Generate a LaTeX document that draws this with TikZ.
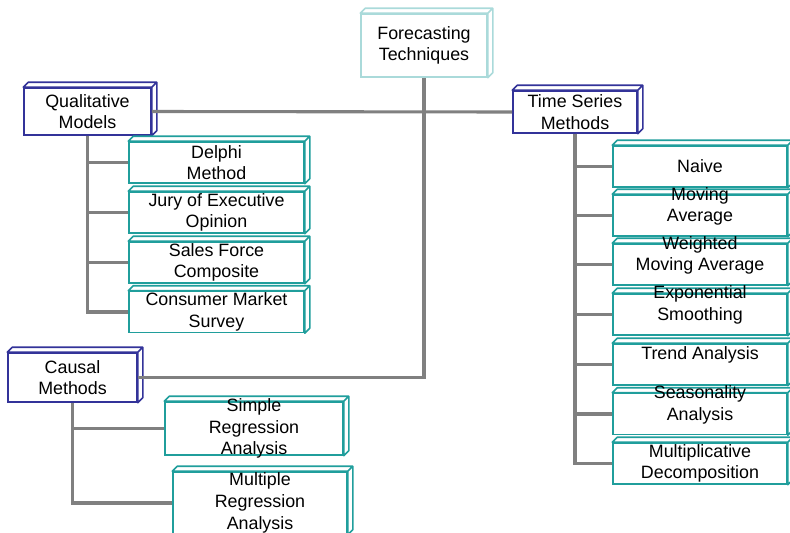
\documentclass[tikz,border=0pt]{standalone}
\usepackage{fontspec}
\setmainfont{Liberation Sans}
\definecolor{navyline}{RGB}{51,51,153}
\definecolor{tealline}{RGB}{32,158,156}
\definecolor{paleline}{RGB}{170,218,218}
\definecolor{linkgray}{RGB}{128,128,128}
\newcommand{\boxfont}{\fontsize{12.7}{15.4}\selectfont}
\tikzset{
  box/.style={draw=#1, line width=1.1pt, fill=white, inner sep=0pt,
    align=center, font=\boxfont,
    append after command={\pgfextra{%
      \draw[draw=#1, line width=1.1pt, fill=white, line join=round]
        (\tikzlastnode.north west) -- ++(5,-5)
        -- ([shift={(5,-5)}]\tikzlastnode.north east)
        -- ([shift={(5,-5)}]\tikzlastnode.south east)
        -- (\tikzlastnode.south east) -- (\tikzlastnode.north east) -- cycle
        (\tikzlastnode.north east) -- ++(5,-5);}}},
  boxsize/.style 2 args={minimum width=#1*0.025cm, minimum height=#2*0.025cm},
  every label/.style={align=center, font=\boxfont, inner sep=0pt},
  link/.style={draw=linkgray, line width=2.2pt}
}

\begin{document}
\begin{tikzpicture}[x=0.025cm, y=-0.025cm]
    \useasboundingbox (0,0) rectangle (790,533);

    % top and the three families
    \node[box=paleline, boxsize={126}{63}] (fore) at (424,45.5) {Forecasting\\Techniques};
    \node[box=navyline, boxsize={127}{47}] (qual) at (87.5,111.5) {Qualitative\\Models};
    \node[box=navyline, boxsize={124}{42}] (time) at (575,112) {Time Series\\Methods};
    \node[box=navyline, boxsize={129}{49}] (causal) at (72.5,377.5) {Causal\\Methods};

    % qualitative models
    \node[box=tealline, boxsize={175}{41}] (delphi) at (216.5,162.5) {Delphi\\Method};
    \node[box=tealline, boxsize={175}{41}] (jury) at (216.5,212.5) {Jury of Executive\\Opinion};
    \node[box=tealline, boxsize={175}{41}] (sales) at (216.5,262.5) {Sales Force\\Composite};
    \node[box=tealline, boxsize={175}{41}] (consumer) at (216.5,312) {Consumer Market\\Survey};

    % causal methods
    \node[box=tealline, boxsize={178}{53},
        label={center:Simple\\Regression\\Analysis}] (simple) at (254,428.5) {};
    \node[box=tealline, boxsize={174}{62},
        label={center:Multiple\\Regression\\Analysis}] (multiple) at (260,503) {};

    % time series methods
    \node[box=tealline, boxsize={174}{41}] (naive) at (700,166.5) {Naive};
    \node[box=tealline, boxsize={174}{41},
        label={[yshift=0.225cm]center:Moving\\Average}] (moving) at (700,215.5) {};
    \node[box=tealline, boxsize={174}{41},
        label={[yshift=0.225cm]center:Weighted\\Moving Average}] (weighted) at (700,264.5) {};
    \node[box=tealline, boxsize={174}{41},
        label={[yshift=0.235cm]center:Exponential\\Smoothing}] (expo) at (700,314.5) {};
    \node[box=tealline, boxsize={174}{41},
        label={[yshift=0.25cm]center:Trend Analysis}] (trend) at (700,364.5) {};
    \node[box=tealline, boxsize={174}{41},
        label={[yshift=0.225cm]center:Seasonality\\Analysis}] (season) at (700,414) {};
    \node[box=tealline, boxsize={174}{41}] (multi) at (700,463.5) {Multiplicative\\Decomposition};

    % connectors
    \draw[link] (fore.south) |- (causal.east);
    \draw[link] (qual.east) -- (time.west);

    \draw[link] (qual.south) |- (delphi.west);
    \draw[link] (qual.south) |- (jury.west);
    \draw[link] (qual.south) |- (sales.west);
    \draw[link] (qual.south) |- (consumer.west);

    \draw[link] (causal.south) |- (simple.west);
    \draw[link] (causal.south) |- (multiple.west);

    \draw[link] (time.south) |- (naive.west);
    \draw[link] (time.south) |- (moving.west);
    \draw[link] (time.south) |- (weighted.west);
    \draw[link] (time.south) |- (expo.west);
    \draw[link] (time.south) |- (trend.west);
    \draw[link] (time.south) |- (season.west);
    \draw[link] (time.south) |- (multi.west);
\end{tikzpicture}
\end{document}
